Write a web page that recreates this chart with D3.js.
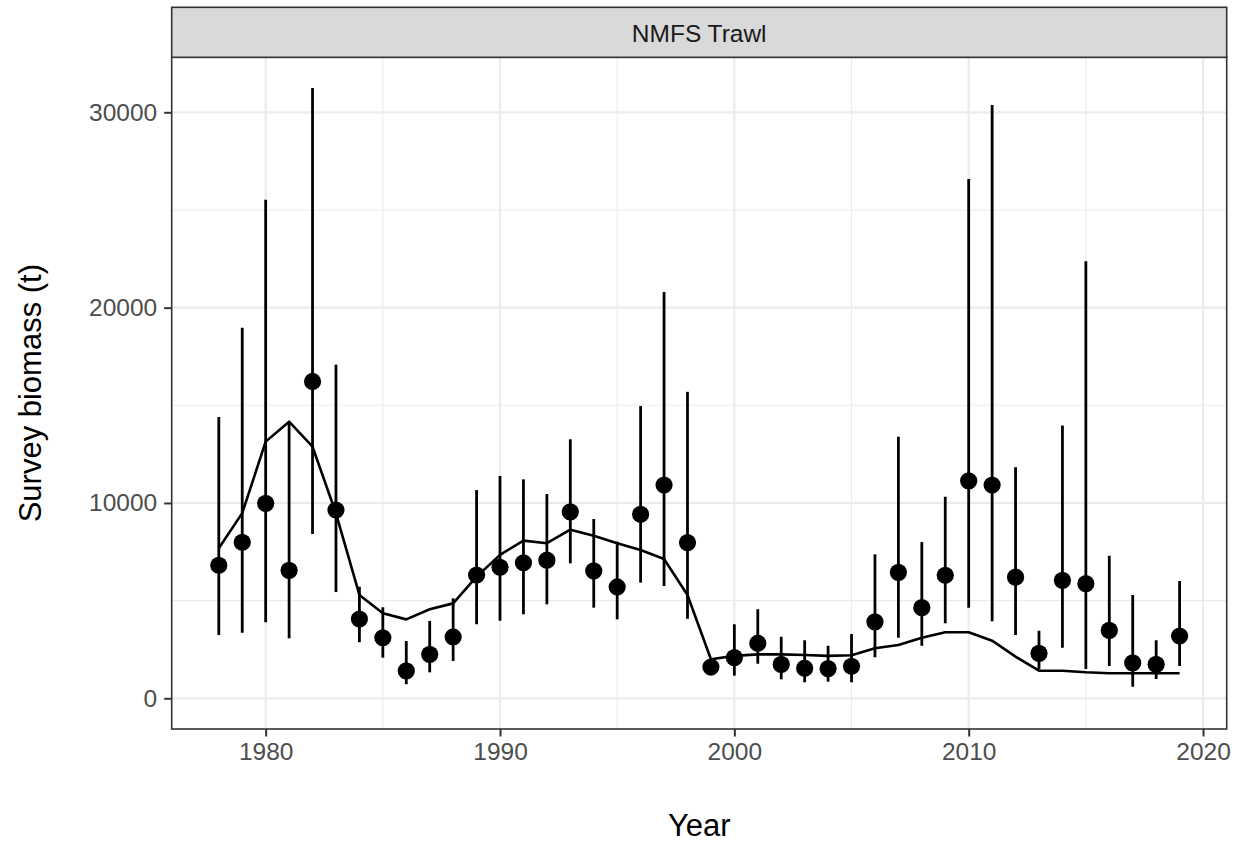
<!DOCTYPE html>
<html>
<head>
<meta charset="utf-8">
<script src="https://cdn.jsdelivr.net/npm/d3@7"></script>
<style>
  html, body { margin: 0; padding: 0; background: #fff; }
  svg { display: block; font-family: "Liberation Sans", Arial, sans-serif; }
</style>
</head>
<body>
<svg id="chart" width="1241" height="843"></svg>
<script>
// ---- data ----
const years = [1978,1979,1980,1981,1982,1983,1984,1985,1986,1987,1988,1989,1990,1991,1992,1993,1994,1995,1996,1997,1998,1999,2000,2001,2002,2003,2004,2005,2006,2007,2008,2009,2010,2011,2012,2013,2014,2015,2016,2017,2018,2019];
const observed = [6810,7990,9980,6550,16220,9640,4060,3100,1400,2250,3140,6310,6710,6940,7070,9540,6520,5700,9420,10920,7970,1600,2080,2820,1740,1540,1520,1640,3910,6450,4640,6300,11130,10920,6200,2300,6040,5870,3480,1810,1740,3190];
const lower = [3240,3360,3890,3070,8410,5440,2870,2080,720,1330,1910,3790,3970,4300,4810,6910,4640,4040,5920,5750,4070,1250,1160,1770,970,820,850,820,2100,3100,2690,3840,4640,3940,3240,1500,2590,1500,1650,590,990,1650];
const upper = [14400,18970,25520,14100,31250,17080,5710,4660,2930,3960,5120,10660,11380,11210,10460,13260,9180,8020,14960,20800,15690,2000,3790,4560,3150,2970,2690,3290,7370,13390,8000,10320,26590,30370,11830,3460,13960,22380,7300,5290,2970,6000];
const predicted = [7680,9480,13140,14160,12880,9470,5290,4350,4040,4560,4860,6230,7340,8070,7940,8630,8320,7940,7590,7130,5290,2000,2170,2250,2250,2220,2170,2200,2560,2730,3100,3380,3380,2950,2130,1413,1413,1330,1280,1280,1280,1280];
const xTicks = [1980,1990,2000,2010,2020];
const xMinor = [1985,1995,2005,2015];
const yTicks = [0,10000,20000,30000];
const yMinor = [5000,15000,25000];
const panelTitle = "NMFS Trawl";
const xTitle = "Year";
const yTitle = "Survey biomass (t)";

// ---- layout ----
const P = { left: 171.7, right: 1226.7, top: 57.3, bottom: 729 };
const svg = d3.select("#chart");

const x = d3.scaleLinear().domain([1975.99, 2021.01]).range([P.left, P.right]);
const y = d3.scaleLinear().domain([-1572, 32816]).range([P.bottom, P.top]);

// panel background
svg.append("rect").attr("x", P.left).attr("y", P.top)
  .attr("width", P.right - P.left).attr("height", P.bottom - P.top).attr("fill", "#fff");

const grid = svg.append("g");
// minor grid
grid.selectAll(".xmin").data(xMinor).join("line")
  .attr("x1", d => x(d)).attr("x2", d => x(d)).attr("y1", P.top).attr("y2", P.bottom)
  .attr("stroke", "#EBEBEB").attr("stroke-width", 1.1);
grid.selectAll(".ymin").data(yMinor).join("line")
  .attr("y1", d => y(d)).attr("y2", d => y(d)).attr("x1", P.left).attr("x2", P.right)
  .attr("stroke", "#EBEBEB").attr("stroke-width", 1.1);
// major grid
grid.selectAll(".xmaj").data(xTicks).join("line")
  .attr("x1", d => x(d)).attr("x2", d => x(d)).attr("y1", P.top).attr("y2", P.bottom)
  .attr("stroke", "#EBEBEB").attr("stroke-width", 2.2);
grid.selectAll(".ymaj").data(yTicks).join("line")
  .attr("y1", d => y(d)).attr("y2", d => y(d)).attr("x1", P.left).attr("x2", P.right)
  .attr("stroke", "#EBEBEB").attr("stroke-width", 2.2);

// clip
svg.append("clipPath").attr("id", "clip").append("rect")
  .attr("x", P.left).attr("y", P.top).attr("width", P.right - P.left).attr("height", P.bottom - P.top);
const g = svg.append("g").attr("clip-path", "url(#clip)");

const rows = years.map((yr, i) => ({ yr, obs: observed[i], lo: lower[i], hi: upper[i], pred: predicted[i] }));

// error bars
g.selectAll(".eb").data(rows).join("line")
  .attr("x1", d => x(d.yr)).attr("x2", d => x(d.yr))
  .attr("y1", d => y(d.lo)).attr("y2", d => y(d.hi))
  .attr("stroke", "#000").attr("stroke-width", 2.8);

// predicted line
g.append("path").datum(rows)
  .attr("d", d3.line().x(d => x(d.yr)).y(d => y(d.pred)))
  .attr("fill", "none").attr("stroke", "#000").attr("stroke-width", 2.6)
  .attr("stroke-linejoin", "round");

// points
g.selectAll(".pt").data(rows).join("circle")
  .attr("cx", d => x(d.yr)).attr("cy", d => y(d.obs)).attr("r", 8.6)
  .attr("fill", "#000");

// panel border
svg.append("rect").attr("x", P.left).attr("y", P.top)
  .attr("width", P.right - P.left).attr("height", P.bottom - P.top)
  .attr("fill", "none").attr("stroke", "#333333").attr("stroke-width", 1.6);

// strip
svg.append("rect").attr("x", P.left).attr("y", 7.3)
  .attr("width", P.right - P.left).attr("height", P.top - 7.3)
  .attr("fill", "#D9D9D9").attr("stroke", "#333333").attr("stroke-width", 1.6);
svg.append("text").attr("x", (P.left + P.right) / 2).attr("y", 41.5)
  .attr("text-anchor", "middle").attr("font-size", 24.5).attr("fill", "#1A1A1A")
  .text(panelTitle);

// axes
const xAxis = d3.axisBottom(x).tickValues(xTicks).tickSize(7.5).tickPadding(6).tickFormat(d3.format("d"));
const xg = svg.append("g").attr("transform", `translate(0,${P.bottom})`).call(xAxis);
xg.select(".domain").remove();
xg.selectAll(".tick line").attr("stroke", "#333333").attr("stroke-width", 2);
xg.selectAll(".tick text").attr("fill", "#4D4D4D").attr("font-size", 24.5)
  .attr("font-family", "Liberation Sans, Arial, sans-serif");

const yAxis = d3.axisLeft(y).tickValues(yTicks).tickSize(7.5).tickPadding(7).tickFormat(d3.format("d"));
const yg = svg.append("g").attr("transform", `translate(${P.left},0)`).call(yAxis);
yg.select(".domain").remove();
yg.selectAll(".tick line").attr("stroke", "#333333").attr("stroke-width", 2);
yg.selectAll(".tick text").attr("fill", "#4D4D4D").attr("font-size", 24.5)
  .attr("font-family", "Liberation Sans, Arial, sans-serif");

// titles
svg.append("text").attr("x", (P.left + P.right) / 2).attr("y", 836)
  .attr("text-anchor", "middle").attr("font-size", 31).attr("fill", "#000").text(xTitle);
svg.append("text").attr("transform", `translate(41,${(P.top + P.bottom) / 2}) rotate(-90)`)
  .attr("text-anchor", "middle").attr("font-size", 31).attr("fill", "#000").text(yTitle);
</script>
</body>
</html>
